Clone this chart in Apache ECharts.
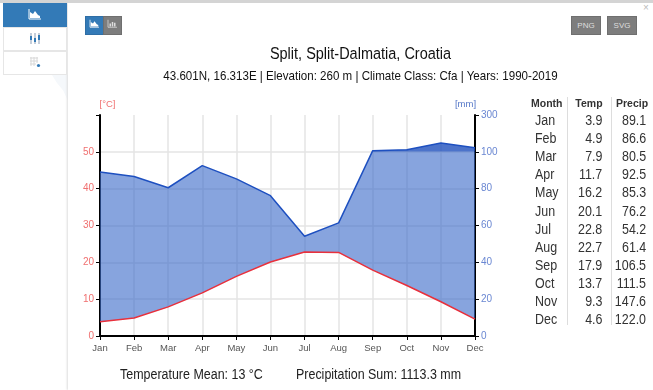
<!DOCTYPE html>
<html>
<head>
<meta charset="utf-8">
<title>Split climate diagram</title>
<script src="https://cdn.jsdelivr.net/npm/echarts@6/dist/echarts.min.js"></script>
<style>
  html, body { margin: 0; padding: 0; background: #fff; font-family: "Liberation Sans", Arial, sans-serif; overflow: hidden; }
  #page { position: relative; width: 653px; height: 390px; overflow: hidden; }
  .abs { position: absolute; }
  #topbar { left: 0; top: 0; width: 653px; height: 3px; background: #d4d4d4; }
  #map { left: 52px; top: 75px; width: 16px; height: 26px; background: #f5f8fb; clip-path: polygon(0 0, 100% 0, 100% 100%, 70% 60%, 30% 30%); }
  #modal { left: 68px; top: 3px; width: 585px; height: 387px; background: #fff; box-shadow: -1px 0 2px #ddd; }
  .side { left: 3px; width: 64px; height: 23px; background: #fff; border: 1px solid #e6e6e6; box-sizing: border-box; text-align: center; }
  .side svg { margin-top: 4px; }
  .btn { top: 16px; height: 19px; background: #7d7d7d; color: #ddd; font-size: 8px; line-height: 18px; text-align: center; border: 1px solid #6f6f6f; box-sizing: border-box; }
  #chart { left: 0; top: 0; width: 653px; height: 390px; }
  .txt { white-space: nowrap; color: #222; text-align: center; transform: scaleX(0.89); }
  .footer { transform-origin: left center; }
  #climTable { left: 528px; top: 95px; width: 122px; height: 232px; font-size: 14px; color: #333; }
  #climTable div.row { position: absolute; left: 0; width: 122px; height: 18px; line-height: 18px; }
  #climTable span { position: absolute; top: 0; transform: scaleX(0.89); }
  #climTable span.l { transform-origin: left center; }
  #climTable span.r { transform-origin: right center; }
  .vline { position: absolute; top: 2px; width: 1px; height: 228px; background: #ddd; }
</style>
</head>
<body>
<div id="page">
  <div class="abs" id="map"></div>
  <div class="abs" id="modal"></div>
  <div class="abs" id="topbar"></div>

  <div class="abs side" style="top:3px;background:#337ab7;border-color:#337ab7;height:24px;">
    <svg width="14" height="12" viewBox="0 0 14 12"><path d="M1 1V11H13" stroke="#fff" fill="none"/><path d="M2 10V4L5 6L7 3L10 7L12 8V10Z" fill="#fff"/></svg>
  </div>
  <div class="abs side" style="top:27px;height:24px;">
    <svg width="12" height="13" viewBox="0 0 12 13"><path d="M2 1V12M6 1V12M10 1V12" stroke="#8a9db5"/><rect x="1" y="4" width="2" height="4" fill="#337ab7"/><rect x="5" y="6" width="2" height="4" fill="#337ab7"/><rect x="9" y="3" width="2" height="5" fill="#337ab7"/></svg>
  </div>
  <div class="abs side" style="top:51px;height:24px;">
    <svg width="12" height="12" viewBox="0 0 12 12"><path d="M1 2H9M1 5H9M1 8H7M2 1V10M5 1V10M8 1V7" stroke="#d8d8d8"/><circle cx="9.5" cy="9.5" r="1.6" fill="#337ab7"/></svg>
  </div>

  <div class="abs btn" style="left:85px;width:19px;background:#337ab7;border-color:#2f6ea5;">
    <svg width="11" height="9" viewBox="0 0 14 12"><path d="M1 1V11H13" stroke="#fff" fill="none"/><path d="M2 10V4L5 6L7 3L10 7L12 8V10Z" fill="#fff"/></svg>
  </div>
  <div class="abs btn" style="left:103px;width:19px;">
    <svg width="11" height="9" viewBox="0 0 14 12"><path d="M1 1V11H13" stroke="#ddd" fill="none"/><path d="M4 10V6M7 10V4M10 10V5" stroke="#ddd" stroke-width="2"/></svg>
  </div>
  <div class="abs btn" style="left:571px;width:30px;">PNG</div>
  <div class="abs btn" style="left:607px;width:30px;">SVG</div>
  <div class="abs" style="left:643px;top:2px;font-size:10px;color:#bbb;">×</div>

  <div class="abs" id="chart"></div>

  <div class="abs txt" style="left:68px;width:585px;top:44px;font-size:16.3px;color:#111;">Split, Split-Dalmatia, Croatia</div>
  <div class="abs txt" style="left:68px;width:585px;top:68px;font-size:13px;color:#111;">43.601N, 16.313E | Elevation: 260 m | Climate Class: Cfa | Years: 1990-2019</div>
  <div class="abs txt footer" style="left:120px;top:366px;font-size:14px;">Temperature Mean: 13 °C</div>
  <div class="abs txt footer" style="left:296px;top:366px;font-size:14px;">Precipitation Sum: 1113.3 mm</div>

  <div class="abs" id="climTable"></div>
</div>

<script>
  const months = ['Jan', 'Feb', 'Mar', 'Apr', 'May', 'Jun', 'Jul', 'Aug', 'Sep', 'Oct', 'Nov', 'Dec'];
  const temp = [3.9, 4.9, 7.9, 11.7, 16.2, 20.1, 22.8, 22.7, 17.9, 13.7, 9.3, 4.6];
  const precip = [89.1, 86.6, 80.5, 92.5, 85.3, 76.2, 54.2, 61.4, 106.5, 111.5, 147.6, 122.0];
  const tableHead = ['Month', 'Temp', 'Precip'];

  // Walter-Lieth: 1C = 2mm up to 100mm, above that the scale is squeezed 10x
  function squeeze(p) {
    return p > 100 ? 100 + (p - 100) / 10 : p;
  }

  let precipScaled = precip.map(squeeze);
  let base = temp.map(function (t) { return t * 2; });
  let lower = precipScaled.map(function (p, i) { return Math.min(p, 100) - base[i]; });
  let upper = precipScaled.map(function (p) { return Math.max(p - 100, 0); });

  // table on the right
  let tbl = document.getElementById('climTable');
  let html = '<div class="vline" style="left:39px"></div><div class="vline" style="left:83px"></div>';
  html += '<div class="row" style="top:-1px;font-weight:bold;font-size:11.8px;">' +
    '<span class="l" style="left:3px">' + tableHead[0] + '</span>' +
    '<span class="r" style="right:47px">' + tableHead[1] + '</span>' +
    '<span class="r" style="right:2px">' + tableHead[2] + '</span></div>';
  for (let i = 0; i < months.length; ++i) {
    html += '<div class="row" style="top:' + (16 + i * 18.1) + 'px;">' +
      '<span class="l" style="left:7px">' + months[i] + '</span>' +
      '<span class="r" style="right:48px">' + temp[i].toFixed(1) + '</span>' +
      '<span class="r" style="right:4px">' + precip[i].toFixed(1) + '</span></div>';
  }
  tbl.innerHTML = html;

  let myChart = echarts.init(document.getElementById('chart'), null, { renderer: 'canvas' });
  myChart.setOption({
    animation: false,
    backgroundColor: 'transparent',
    textStyle: { fontFamily: '"Liberation Sans", Arial, sans-serif' },
    grid: { left: 100, right: 178, top: 115, bottom: 54 },
    xAxis: {
      type: 'category',
      boundaryGap: false,
      data: months,
      axisLine: { lineStyle: { color: '#000', width: 2 } },
      axisTick: { alignWithLabel: true, length: 4, lineStyle: { color: '#000', width: 1 } },
      axisLabel: { color: '#555', fontSize: 9.5, margin: 7, interval: 0 },
      splitLine: { show: true, lineStyle: { color: '#e4e4e4', width: 1.5 } }
    },
    yAxis: [
      {
        type: 'value',
        min: 0,
        max: 60,
        interval: 10,
        name: '[°C]',
        nameLocation: 'end',
        nameGap: 6,
        nameTextStyle: { color: '#f07070', fontSize: 9.5, padding: [0, 0, 0, 15] },
        axisLine: { show: true, lineStyle: { color: '#000', width: 2 } },
        axisTick: { show: true, length: 4, lineStyle: { color: '#000' } },
        axisLabel: {
          color: '#f07070',
          fontSize: 10,
          margin: 6,
          formatter: function (v) { return v > 50 ? '' : v; }
        },
        splitLine: { show: true, showMaxLine: false, lineStyle: { color: '#e4e4e4', width: 1.5 } }
      },
      {
        type: 'value',
        min: 0,
        max: 120,
        interval: 20,
        name: '[mm]',
        nameLocation: 'end',
        nameGap: 6,
        nameTextStyle: { color: '#5577c8', fontSize: 9.5, padding: [0, 19, 0, 0] },
        axisLine: { show: true, lineStyle: { color: '#000', width: 2 } },
        axisTick: { show: true, length: 4, lineStyle: { color: '#000' } },
        axisLabel: {
          color: '#6a87d2',
          fontSize: 10,
          margin: 6,
          formatter: function (v) { return v > 100 ? 300 : v; }
        },
        splitLine: { show: false }
      }
    ],
    series: [
      {
        name: 'base',
        type: 'line',
        yAxisIndex: 1,
        stack: 'clim',
        data: base,
        symbol: 'none',
        lineStyle: { width: 0 },
        silent: true
      },
      {
        name: 'lower',
        type: 'line',
        yAxisIndex: 1,
        stack: 'clim',
        data: lower,
        symbol: 'none',
        lineStyle: { width: 0 },
        areaStyle: { color: '#3d6cc9', opacity: 0.62 }
      },
      {
        name: 'upper',
        type: 'line',
        yAxisIndex: 1,
        stack: 'clim',
        data: upper,
        symbol: 'none',
        lineStyle: { width: 0 },
        areaStyle: { color: '#1f50bd', opacity: 0.8 }
      },
      {
        name: 'Precip',
        type: 'line',
        yAxisIndex: 1,
        data: precipScaled,
        symbol: 'none',
        z: 4,
        lineStyle: { color: '#1e50c0', width: 1.5 }
      },
      {
        name: 'Temp',
        type: 'line',
        yAxisIndex: 0,
        data: temp,
        symbol: 'none',
        z: 5,
        lineStyle: { color: '#e8303c', width: 1.5 }
      }
    ]
  });
</script>
</body>
</html>
